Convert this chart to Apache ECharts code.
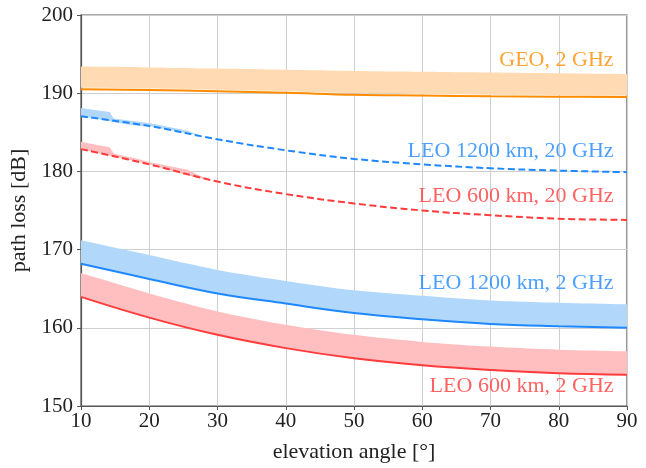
<!DOCTYPE html>
<html>
<head>
<meta charset="utf-8">
<script src="https://cdn.jsdelivr.net/npm/echarts@6/dist/echarts.min.js"></script>
<style>html,body{margin:0;padding:0;background:#fff}#c{width:646px;height:468px}</style>
</head>
<body>
<div id="c"></div>
<script>
// elevation angles (deg)
const angles = [10, 20, 30, 40, 50, 60, 70, 80, 90];
// GEO, 2 GHz
const geoLine  = [190.5, 190.4, 190.25, 190.05, 189.8, 189.7, 189.6, 189.55, 189.5];
const geoLower = [190.7, 190.6, 190.45, 190.25, 190.0, 189.9, 189.8, 189.75, 189.7];
const geoUpper = [193.4, 193.3, 193.15, 193.0, 192.85, 192.75, 192.65, 192.55, 192.45];
// LEO 1200 km, 20 GHz (dashed)
const leo1200_20Line = [187.05, 185.8, 184.1, 182.7, 181.6, 180.9, 180.4, 180.1, 179.9];
const leo1200_20BandX     = [10, 12, 14.2, 14.8, 18.4, 20, 25.6, 27.5];
const leo1200_20BandLower = [187.05, 186.75, 186.4, 186.3, 185.8, 185.8, 184.85, 184.6];
const leo1200_20BandUpper = [188.1, 187.85, 187.6, 186.75, 186.35, 186.2, 185.2, 184.6];
// LEO 600 km, 20 GHz (dashed)
const leo600_20Line = [182.85, 180.9, 178.7, 177.1, 175.9, 175.0, 174.4, 173.95, 173.8];
const leo600_20BandX     = [10, 12, 14.2, 14.8, 18.4, 20, 25.6, 29];
const leo600_20BandLower = [182.85, 182.45, 182.0, 181.9, 181.2, 180.9, 179.5, 178.8];
const leo600_20BandUpper = [183.8, 183.45, 183.1, 182.3, 181.6, 181.2, 180.2, 178.8];
// LEO 1200 km, 2 GHz
const leo1200_2Line  = [168.2, 166.25, 164.4, 163.1, 161.9, 161.1, 160.5, 160.2, 160.0];
const leo1200_2Upper = [171.2, 169.3, 167.4, 166.0, 164.8, 164.1, 163.5, 163.2, 163.0];
// LEO 600 km, 2 GHz
const leo600_2Line  = [163.95, 161.3, 159.1, 157.4, 156.1, 155.2, 154.6, 154.2, 154.0];
const leo600_2Upper = [167.0, 164.4, 162.1, 160.4, 159.1, 158.2, 157.6, 157.2, 157.0];
// curve labels
const labelTexts = ['GEO, 2 GHz', 'LEO 1200 km, 20 GHz', 'LEO 600 km, 20 GHz', 'LEO 1200 km, 2 GHz', 'LEO 600 km, 2 GHz'];
const labelY = [194.2, 182.6, 176.8, 165.7, 152.5];
const labelX = 88.1;
const xTicks = [10, 20, 30, 40, 50, 60, 70, 80, 90];
const yTicks = [150, 160, 170, 180, 190, 200];

const C = {
  orange: '#ff8c00', orangeBand: '#ffdab2',
  blue: '#1e88ff', blueBand: '#b1d7fb',
  red: '#ff3b3b', redBand: '#ffbfc0'
};
const FONT = 'Liberation Serif';

function zip(xs, ys) { return xs.map((x, i) => [x, ys[i]]); }
function band(xs, lower, upper, color, smooth) {
  return {
    type: 'custom', silent: true, z: 1, clip: true,
    data: [[xs[0], lower[0]]],
    renderItem: function (params, api) {
      const top = xs.map((x, i) => api.coord([x, upper[i]]));
      const bot = xs.map((x, i) => api.coord([x, lower[i]])).reverse();
      // repeat the four corners so that the smoothed outline keeps sharp ends
      const pts = [top[0], ...top, top[top.length - 1], bot[0], ...bot, bot[bot.length - 1]];
      return { type: 'polygon', shape: { points: pts, smooth: smooth }, style: { fill: color, stroke: null } };
    }
  };
}
function curve(ys, color, dashed) {
  return { type: 'line', data: zip(angles, ys), symbol: 'none', smooth: 0.4, z: 3,
    lineStyle: { color: color, width: 2, type: dashed ? [7, 3.5] : 'solid' } };
}
const labelColors = [C.orange, C.blue, C.red, C.blue, C.red];

const option = {
  animation: false,
  backgroundColor: '#fff',
  grid: { left: 81, right: 19, top: 15, bottom: 54, show: true, borderColor: '#555', borderWidth: 1.2, containLabel: false },
  xAxis: {
    type: 'value', min: 10, max: 90, interval: 10,
    name: 'elevation angle [°]', nameLocation: 'middle', nameGap: 35,
    nameTextStyle: { fontFamily: FONT, fontSize: 22, color: '#222' },
    axisLine: { show: true, lineStyle: { color: '#555', width: 1.2 } },
    axisTick: { show: true, length: 4, lineStyle: { color: '#555' } },
    axisLabel: { fontFamily: FONT, fontSize: 21, color: '#222', margin: 5,
      formatter: v => xTicks.includes(v) ? String(v) : '' },
    splitLine: { show: true, lineStyle: { color: '#cfcfcf', width: 1 } }
  },
  yAxis: {
    type: 'value', min: 150, max: 200, interval: 10,
    name: 'path loss [dB]', nameLocation: 'middle', nameGap: 46,
    nameTextStyle: { fontFamily: FONT, fontSize: 22, color: '#222' },
    axisLine: { show: true, lineStyle: { color: '#555', width: 1.2 } },
    axisTick: { show: true, length: 4, lineStyle: { color: '#555' } },
    axisLabel: { fontFamily: FONT, fontSize: 21, color: '#222', margin: 8,
      formatter: v => yTicks.includes(v) ? String(v) : '' },
    splitLine: { show: true, lineStyle: { color: '#cfcfcf', width: 1 } }
  },
  series: [
    band(angles, geoLower, geoUpper, C.orangeBand, 0.3),
    band(leo1200_20BandX, leo1200_20BandLower, leo1200_20BandUpper, C.blueBand, 0),
    band(leo600_20BandX, leo600_20BandLower, leo600_20BandUpper, C.redBand, 0),
    band(angles, leo1200_2Line, leo1200_2Upper, C.blueBand, 0.3),
    band(angles, leo600_2Line, leo600_2Upper, C.redBand, 0.3),
    curve(geoLine, C.orange, false),
    curve(leo1200_20Line, C.blue, true),
    curve(leo600_20Line, C.red, true),
    curve(leo1200_2Line, C.blue, false),
    curve(leo600_2Line, C.red, false),
    {
      type: 'scatter', symbolSize: 1, itemStyle: { color: 'rgba(0,0,0,0)' }, z: 5, silent: true,
      data: labelTexts.map((t, i) => ({
        value: [labelX, labelY[i]],
        label: { show: true, position: 'left', distance: 0, formatter: t,
          fontFamily: FONT, fontSize: 22, color: labelColors[i] }
      }))
    }
  ]
};
const chart = echarts.init(document.getElementById('c'), null, { renderer: 'canvas' });
chart.setOption(option);
</script>
</body>
</html>
